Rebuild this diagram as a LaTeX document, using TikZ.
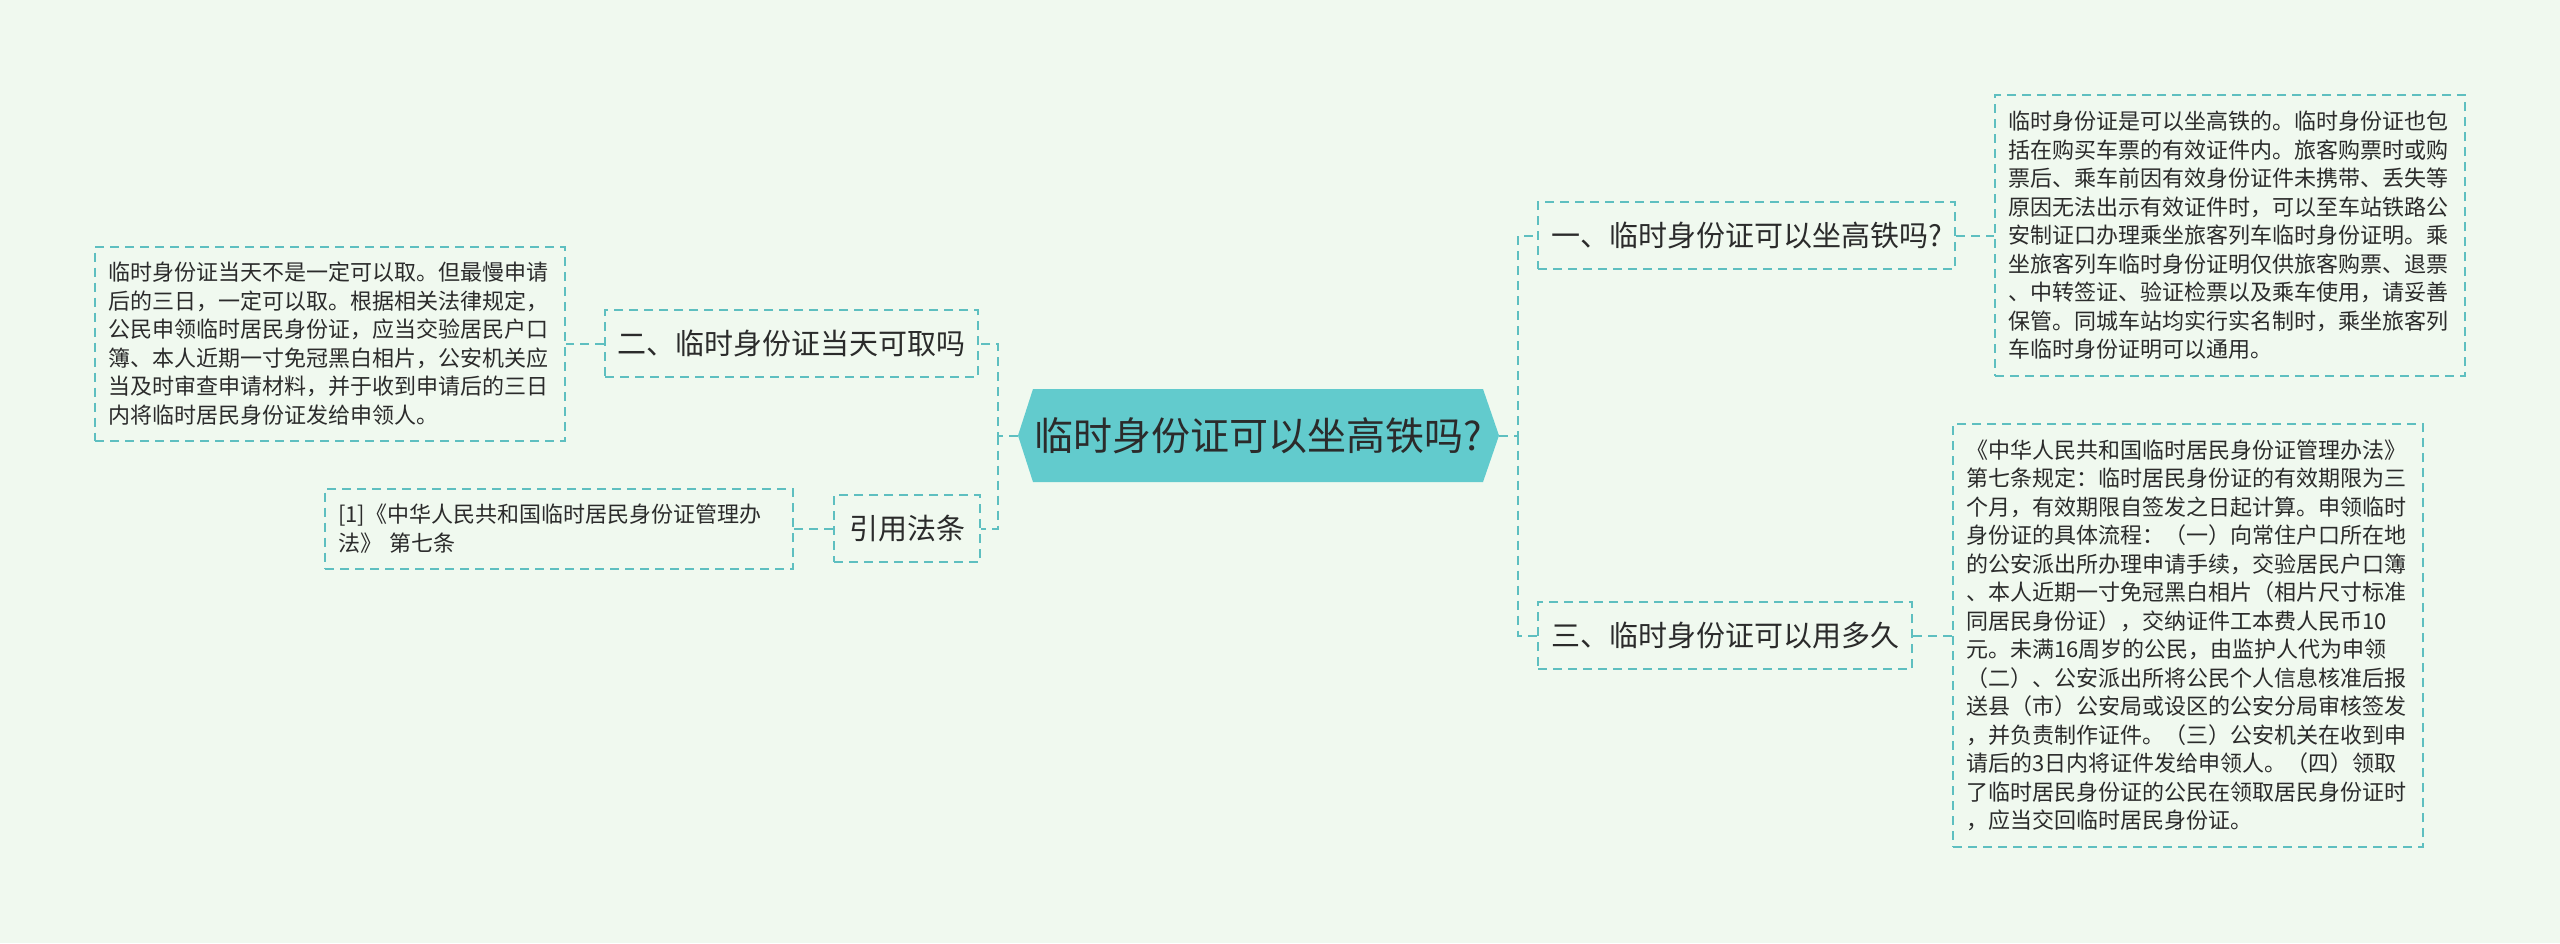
\documentclass[tikz,border=0pt]{standalone}
\usepackage{fontspec}
\setmainfont{Noto Sans CJK SC}
\definecolor{bg}{HTML}{F0F9EF}
\definecolor{teal1}{HTML}{5EBFC0}
\definecolor{rootfill}{HTML}{62CBCD}
\definecolor{txt}{HTML}{2B2B2B}
\tikzset{
  dline/.style={draw=teal1, line width=2pt, dash pattern=on 9pt off 6pt},
  detail/.style={dline, text=txt, align=left, inner xsep=13pt, inner ysep=0pt,
    font=\fontsize{22}{28.5}\selectfont, text width=444pt, minimum height=#1},
  branch/.style={dline, text=txt, inner sep=0pt, font=\fontsize{29}{34}\selectfont,
    minimum width=#1, minimum height=67pt},
  conn/.style={dline}
}
\begin{document}
\begin{tikzpicture}[x=1pt,y=-1pt]
\fill[bg] (0,0) rectangle (2560,943);
\useasboundingbox (0,0) rectangle (2560,943);
% root
\fill[rootfill] (1018,435.5) -- (1033,389) -- (1483,389) -- (1499,435.5) -- (1483,482) -- (1033,482) -- cycle;
\coordinate (rootL) at (1018,435.5);
\coordinate (rootR) at (1499,435.5);
\coordinate (spL) at (998,435.5);
\coordinate (spR) at (1518,435.5);
\node[text=txt, font=\fontsize{39}{45}\selectfont] (root) at (1258.5,435.5) {临时身份证可以坐高铁吗?};
% branches
\node[branch=417pt] (b1) at (1746.5,235.5) {一、临时身份证可以坐高铁吗?};
\node[branch=374pt] (b3) at (1725,635.5) {三、临时身份证可以用多久};
\node[branch=373pt] (b2) at (791.5,343.5) {二、临时身份证当天可取吗};
\node[branch=146pt] (b4) at (907,528.5) {引用法条};
% details
\node[detail=281pt] (d1) at (2230,235.5) {临时身份证是可以坐高铁的。临时身份证也包\\
括在购买车票的有效证件内。旅客购票时或购\\
票后、乘车前因有效身份证件未携带、丢失等\\
原因无法出示有效证件时，可以至车站铁路公\\
安制证口办理乘坐旅客列车临时身份证明。乘\\
坐旅客列车临时身份证明仅供旅客购票、退票\\
、中转签证、验证检票以及乘车使用，请妥善\\
保管。同城车站均实行实名制时，乘坐旅客列\\
车临时身份证明可以通用。};
\node[detail=423pt] (d3) at (2188,635.5) {《中华人民共和国临时居民身份证管理办法》\\
第七条规定：临时居民身份证的有效期限为三\\
个月，有效期限自签发之日起计算。申领临时\\
身份证的具体流程：（一）向常住户口所在地\\
的公安派出所办理申请手续，交验居民户口簿\\
、本人近期一寸免冠黑白相片（相片尺寸标准\\
同居民身份证），交纳证件工本费人民币10\\
元。未满16周岁的公民，由监护人代为申领\\
（二）、公安派出所将公民个人信息核准后报\\
送县（市）公安局或设区的公安分局审核签发\\
，并负责制作证件。（三）公安机关在收到申\\
请后的3日内将证件发给申领人。（四）领取\\
了临时居民身份证的公民在领取居民身份证时\\
，应当交回临时居民身份证。};
\node[detail=194pt] (d2) at (330,343.5) {临时身份证当天不是一定可以取。但最慢申请\\
后的三日，一定可以取。根据相关法律规定，\\
公民申领临时居民身份证，应当交验居民户口\\
簿、本人近期一寸免冠黑白相片，公安机关应\\
当及时审查申请材料，并于收到申请后的三日\\
内将临时居民身份证发给申领人。};
\node[detail=80pt, text width=442pt] (d4) at (559,528.5) {[1]《中华人民共和国临时居民身份证管理办\\
法》 第七条};
% connectors
\draw[conn] (rootR) -- (spR) |- (b1.west);
\draw[conn] (spR) |- (b3.west);
\draw[conn] (rootL) -- (spL) |- (b2.east);
\draw[conn] (spL) |- (b4.east);
\draw[conn] (b1.east) -- (d1.west);
\draw[conn] (b3.east) -- (d3.west);
\draw[conn] (b2.west) -- (d2.east);
\draw[conn] (b4.west) -- (d4.east);
\end{tikzpicture}
\end{document}
